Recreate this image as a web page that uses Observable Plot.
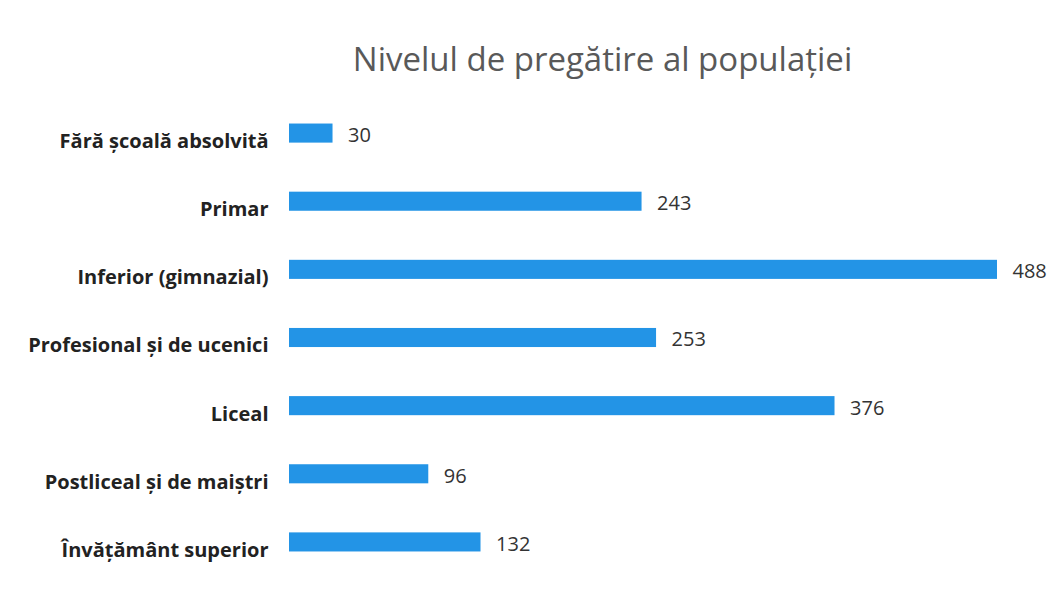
<!DOCTYPE html>
<html>
<head>
<meta charset="utf-8">
<script src="https://cdn.jsdelivr.net/npm/d3@7"></script>
<script src="https://cdn.jsdelivr.net/npm/@observablehq/plot@0.6"></script>
<style>
  html, body { margin: 0; padding: 0; background: #fff; }
  #title { height: 100px; width: 1053px; position: relative; font-family: "Open Sans", sans-serif; }
  #title span { position: absolute; left: 0; width: 1053px; top: 36px; text-align: center; padding-left: 152px; box-sizing: border-box; font-size: 33px; color: #595959; }
</style>
</head>
<body>
<div id="title"><span>Nivelul de pregătire al populației</span></div>
<div id="chart"></div>
<script>
const categories = [
  "Fără școală absolvită",
  "Primar",
  "Inferior (gimnazial)",
  "Profesional și de ucenici",
  "Liceal",
  "Postliceal și de maiștri",
  "Învățământ superior"
];
const values = [30, 243, 488, 253, 376, 96, 132];

const data = categories.map((c, i) => ({category: c, value: values[i]}));

const plot = Plot.plot({
  width: 1053,
  height: 502,
  marginLeft: 289,
  marginRight: 56,
  marginTop: -1,
  marginBottom: 26,
  style: {fontFamily: "'Open Sans', sans-serif", background: "#fff"},
  x: {domain: [0, 488], axis: null},
  y: {domain: categories, paddingInner: 0.72, paddingOuter: 0.36, round: false, label: null},
  marks: [
    Plot.barX(data, {x: "value", y: "category", fill: "#2394e6"}),
    Plot.text(data, {x: "value", y: "category", text: d => String(d.value), textAnchor: "start", dx: 15, dy: 2, fontSize: 20, fill: "#333"}),
    Plot.axisY({tickSize: 0, tickPadding: 21, dy: 8, fontSize: 20, fontWeight: "bold", fill: "#222", label: null})
  ]
});
document.getElementById("chart").appendChild(plot);
</script>
</body>
</html>
